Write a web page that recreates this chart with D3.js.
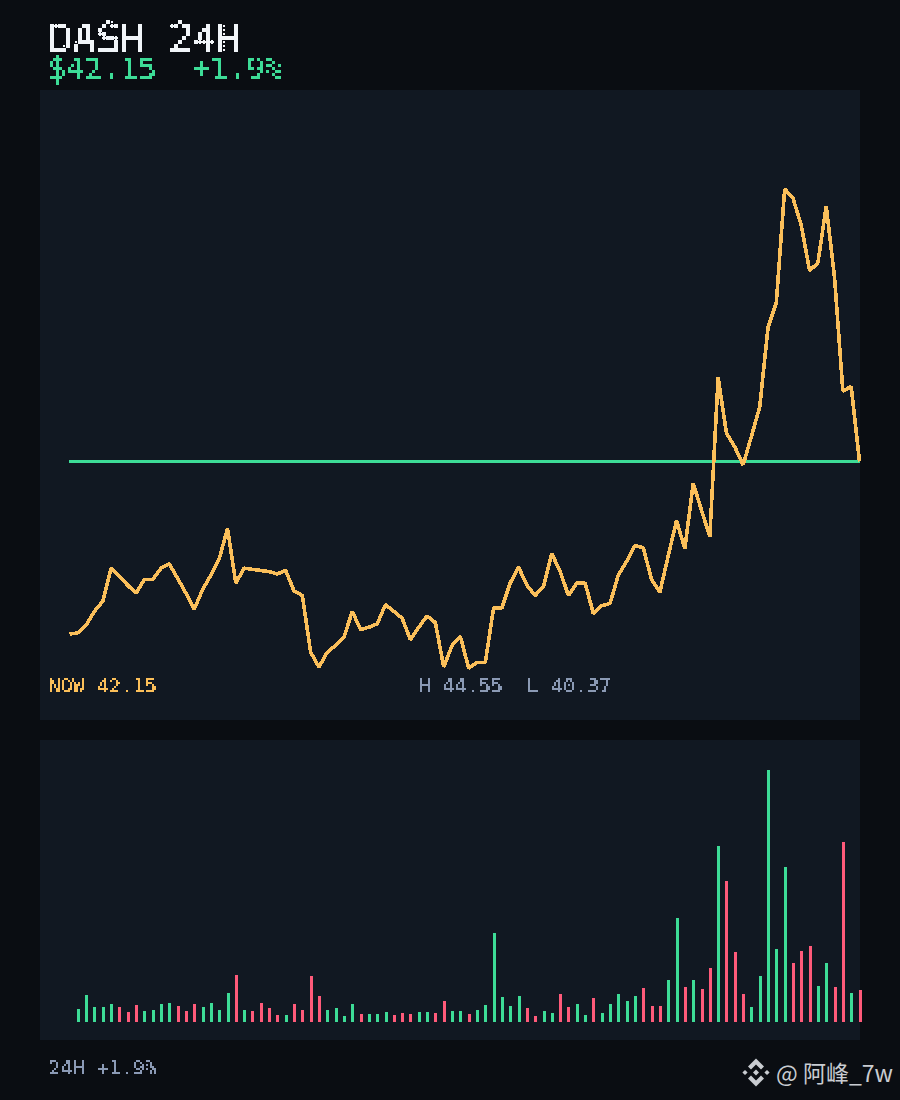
<!DOCTYPE html>
<html><head><meta charset="utf-8">
<script src="https://cdn.jsdelivr.net/npm/d3@7/dist/d3.min.js"></script>
<style>html,body{margin:0;padding:0;background:#0a0d12}svg{display:block}</style>
</head><body><svg id="c" width="900" height="1100"></svg>
<script>
const prices=[40.63,40.64,40.71,40.83,40.92,41.21,41.14,41.06,40.99,41.11,41.11,41.21,41.25,41.12,40.99,40.85,41.02,41.15,41.29,41.56,41.08,41.21,41.20,41.19,41.18,41.16,41.19,41.01,40.97,40.47,40.34,40.47,40.53,40.60,40.83,40.67,40.69,40.72,40.89,40.83,40.77,40.58,40.69,40.79,40.73,40.34,40.53,40.61,40.33,40.38,40.38,40.86,40.86,41.08,41.22,41.06,40.97,41.05,41.34,41.18,40.97,41.08,41.08,40.81,40.88,40.90,41.15,41.27,41.41,41.39,41.11,41.00,41.32,41.63,41.38,41.96,41.72,41.49,42.89,42.40,42.28,42.12,42.37,42.63,43.33,43.55,44.55,44.47,44.23,43.83,43.90,44.40,43.77,42.77,42.81,42.15];
const volumes=[13,27,15,15,18,15,10,17,11,12,18,19,16,11,18,15,19,12,29,47,12,11,19,14,7,7,18,12,46,26,12,14,6,18,8,8,8,10,7,9,8,10,10,9,21,11,11,8,12,17,89,25,16,26,14,6,11,9,28,15,18,7,24,9,18,28,21,26,34,16,16,42,104,35,42,33,54,176,141,70,28,15,46,252,73,155,59,71,76,36,59,35,180,29,32];
const title="DASH 24H", priceLabel="$42.15", changeLabel="+1.9%", nowLabel="NOW 42.15", rangeLabel="H 44.55  L 40.37", footLabel="24H +1.9%", mark="@ 阿峰_7w";
const BG="#0a0d12",PANEL="#111822",GREEN="#3ddc97",RED="#ff5a7a",AMBER="#fbbf5a",GRAY="#8b9ab5",WHITE="#f1f5f9";
const svg=d3.select("#c");
const defs=svg.append("defs");
function pix(id,s,ox,oy){
  const f=defs.append("filter").attr("id",id).attr("filterUnits","userSpaceOnUse").attr("primitiveUnits","userSpaceOnUse").attr("x",ox).attr("y",oy).attr("width",900-ox).attr("height",1100-oy).attr("color-interpolation-filters","sRGB");
  const c=Math.floor((s-1)/2);
  f.append("feFlood").attr("x",ox+c).attr("y",oy+c).attr("width",1).attr("height",1).attr("flood-color","#000");
  f.append("feComposite").attr("x",ox).attr("y",oy).attr("width",s).attr("height",s);
  f.append("feTile").attr("result","g");
  f.append("feComposite").attr("in","SourceGraphic").attr("in2","g").attr("operator","in").attr("result","m0");
  const r=Math.floor((s-1)/2);
  if(r>0) f.append("feMorphology").attr("in","m0").attr("operator","dilate").attr("radius",r).attr("result","m0");
  if(s%2===0){
    f.append("feOffset").attr("in","m0").attr("dx",1).attr("dy",0).attr("result","o1");
    f.append("feOffset").attr("in","m0").attr("dx",0).attr("dy",1).attr("result","o2");
    f.append("feOffset").attr("in","m0").attr("dx",1).attr("dy",1).attr("result","o3");
    const mg=f.append("feMerge").attr("result","m0");
    ["m0","o1","o2","o3"].forEach(n=>mg.append("feMergeNode").attr("in",n));
  }
  const t=f.append("feComponentTransfer").attr("in","m0");
  t.append("feFuncA").attr("type","discrete").attr("tableValues","0 0 1 1 1");
}
pix("p4",4,2,0);pix("p3",3,2,1);pix("p2",2,0,0);
svg.append("rect").attr("width",900).attr("height",1100).attr("fill",BG);
svg.append("rect").attr("x",40).attr("y",90).attr("width",820).attr("height",630).attr("fill",PANEL);
svg.append("rect").attr("x",40).attr("y",740).attr("width",820).attr("height",300).attr("fill",PANEL);
const x=d3.scaleLinear().domain([0,prices.length-1]).range([69,859]);
const y=d3.scaleLinear().domain([42.15,44.55]).range([461.5,189]);
const yv=d3.scaleLinear().domain([0,252]).range([1022,770]);
svg.append("line").attr("x1",x(0)).attr("x2",x(prices.length-1)+1).attr("y1",y(42.15)).attr("y2",y(42.15)).attr("stroke",GREEN).attr("stroke-width",3).attr("shape-rendering","crispEdges");
const line=d3.line().x((d,i)=>x(i)).y(d=>y(d));
svg.append("path").attr("d",line(prices)).attr("fill","none").attr("stroke",AMBER).attr("stroke-width",3.6).attr("stroke-linejoin","bevel").attr("shape-rendering","crispEdges").attr("transform","translate(0.5,0)");
svg.append("g").selectAll("rect").data(volumes).join("rect")
 .attr("x",(d,i)=>Math.floor(x(i+1))).attr("width",3)
 .attr("y",d=>yv(d)).attr("height",d=>yv(0)-yv(d))
 .attr("fill",(d,i)=>prices[i+1]>=prices[i]?GREEN:RED).attr("shape-rendering","crispEdges");
function t(s,px,py,size,fill,flt){
 return svg.append("text").attr("x",px).attr("y",py).attr("font-family","'DejaVu Sans Mono',monospace").attr("font-size",size).attr("fill",fill).style("white-space","pre").attr("filter",flt).text(s);
}
t(title,48,52,40,WHITE,"url(#p4)");
t(priceLabel,48,79,30,GREEN,"url(#p3)");
t(changeLabel,192,79,30,GREEN,"url(#p3)");
t(nowLabel,48,692,20,AMBER,"url(#p2)");
t(rangeLabel,418,692,20,GRAY,"url(#p2)");
t(footLabel,48,1074,20,GRAY,"url(#p2)");
// watermark logo
const logo=svg.append("g").attr("fill","#c9ccd1").attr("transform","translate(756,1072.5)");
["M0,-14L8,-6L5,-3L0,-8L-5,-3L-8,-6Z","M0,14L8,6L5,3L0,8L-5,3L-8,6Z","M-11,-2.6L-8.4,0L-11,2.6L-13.6,0Z","M11,-2.6L13.6,0L11,2.6L8.4,0Z","M0,-3L3,0L0,3L-3,0Z"]
 .forEach(d=>logo.append("path").attr("d",d));
svg.append("text").attr("x",776).attr("y",1082).attr("font-family","'Noto Sans CJK SC','Noto Sans',sans-serif").attr("font-size",23).attr("fill","#c9ccd1").text(mark);
</script></body></html>
